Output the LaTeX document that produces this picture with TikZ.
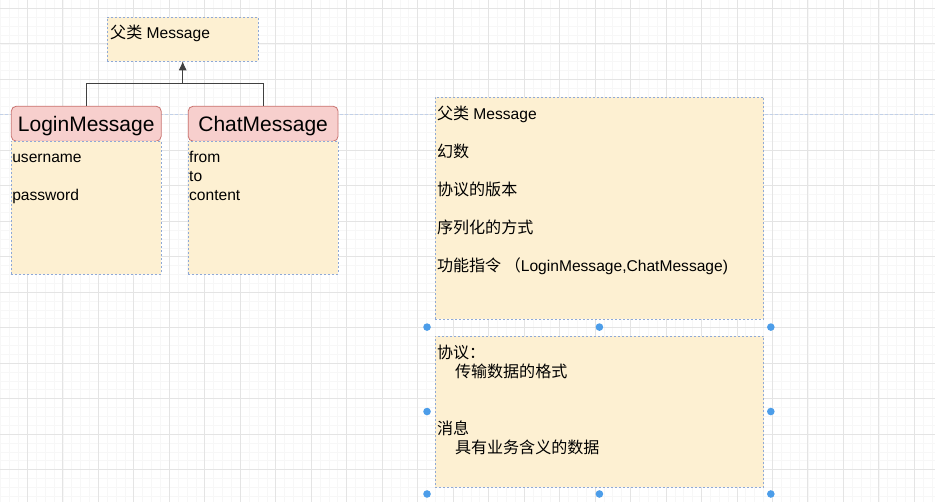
\documentclass[tikz,border=0pt]{standalone}
\usepackage{fontspec}
\setmainfont{Liberation Sans}
\newfontfamily\cjk[Scale=1.03]{Noto Sans CJK SC}
\usetikzlibrary{positioning}
\usetikzlibrary{arrows.meta}

\definecolor{notefill}{HTML}{FDF0D2}
\definecolor{noteline}{HTML}{8FA9D6}
\definecolor{headfill}{HTML}{F7CFCD}
\definecolor{headline}{HTML}{C97370}
\definecolor{gridmajor}{HTML}{E4E4E4}
\definecolor{gridminor}{HTML}{F7F7F7}
\definecolor{handleblue}{HTML}{4C9DE9}

\newcommand{\boxlines}[1]{\parbox[t]{320pt}{\raggedright #1}}

\begin{document}
\begin{tikzpicture}[x=1pt,y=-1pt,every node/.style={inner sep=0pt,outer sep=0pt}]

	\tikzstyle{note}=[rectangle,draw=noteline,dash pattern=on 2pt off 2pt,line width=0.7pt,fill=notefill,anchor=north west]
	\tikzstyle{header}=[rectangle,rounded corners=5pt,draw=headline,line width=0.8pt,fill=headfill,minimum width=150pt,minimum height=35pt,font=\fontsize{21pt}{24pt}\selectfont,text height=15pt,text depth=0pt]
	\tikzstyle{txt}=[anchor=base west,font=\fontsize{15.6pt}{19pt}\selectfont]
	\tikzstyle{conn}=[draw=black!75,line width=0.9pt]

	% canvas grid
	\fill[white] (0,0) rectangle (935,502);
	\draw[gridminor,line width=0.5pt,step=8.875pt,shift={(27,8)}] (-27,-8) grid (908,494);
	\draw[gridmajor,line width=0.6pt,step=35.5pt,shift={(27,8)}] (-27,-8) grid (908,494);
	\draw[noteline!55,dash pattern=on 3pt off 2pt,line width=0.6pt] (0,114) -- (935,114);
	\useasboundingbox (0,0) rectangle (935,502);

	% class tree
	\node [note,minimum width=151pt,minimum height=44pt] (parent) at (107,17) {};
	\node [txt] (parentname) at ([shift={(3,21)}]parent.north west) {{\cjk 父类} Message};
	\node [header] (login) at (86,123.5) {LoginMessage};
	\node [header,right=27pt of login] (chat) {ChatMessage};
	\node [note,minimum width=150pt,minimum height=133pt,below=0pt of login] (loginbody) {};
	\node [note,minimum width=150pt,minimum height=133pt,below=0pt of chat] (chatbody) {};
	\node [txt] (loginfields) at ([shift={(1,21)}]loginbody.north west) {\boxlines{username\\[19pt]password}};
	\node [txt] (chatfields) at ([shift={(1,21)}]chatbody.north west) {\boxlines{from\\to\\content}};
	\coordinate (bus) at (182.5,83);
	\draw[conn] (login.north) |- (bus) -| (chat.north);
	\draw[conn,-{Latex[length=9pt,width=8pt]}] (bus) -- (parent.south);

	% notes on the right
	\node [note,minimum width=329pt,minimum height=222pt] (fieldsbox) at (435,97) {};
	\node [txt] (fieldslist) at ([shift={(2,22)}]fieldsbox.north west) {\boxlines{{\cjk 父类} Message\\[19pt]
		{\cjk 幻数}\\[19pt]
		{\cjk 协议的版本}\\[19pt]
		{\cjk 序列化的方式}\\[19pt]
		{\cjk 功能指令 （}LoginMessage,ChatMessage)}};
	\node [note,minimum width=329pt,minimum height=151pt] (notebox) at (435,336) {};
	\node [txt] (notelist) at ([shift={(2,22)}]notebox.north west) {\boxlines{{\cjk 协议：}\\
		\hspace*{18pt}{\cjk 传输数据的格式}\\[38pt]
		{\cjk 消息}\\
		\hspace*{18pt}{\cjk 具有业务含义的数据}}};

	% selection handles
	\foreach \a/\dx/\dy in {north west/-8/-9,north/0/-9,north east/7/-9,west/-8/0,east/7/0,south west/-8/7,south/0/7,south east/7/7}
		\fill[handleblue] ([shift={(\dx,\dy)}]notebox.\a) circle (3.8pt);

\end{tikzpicture}
\end{document}
